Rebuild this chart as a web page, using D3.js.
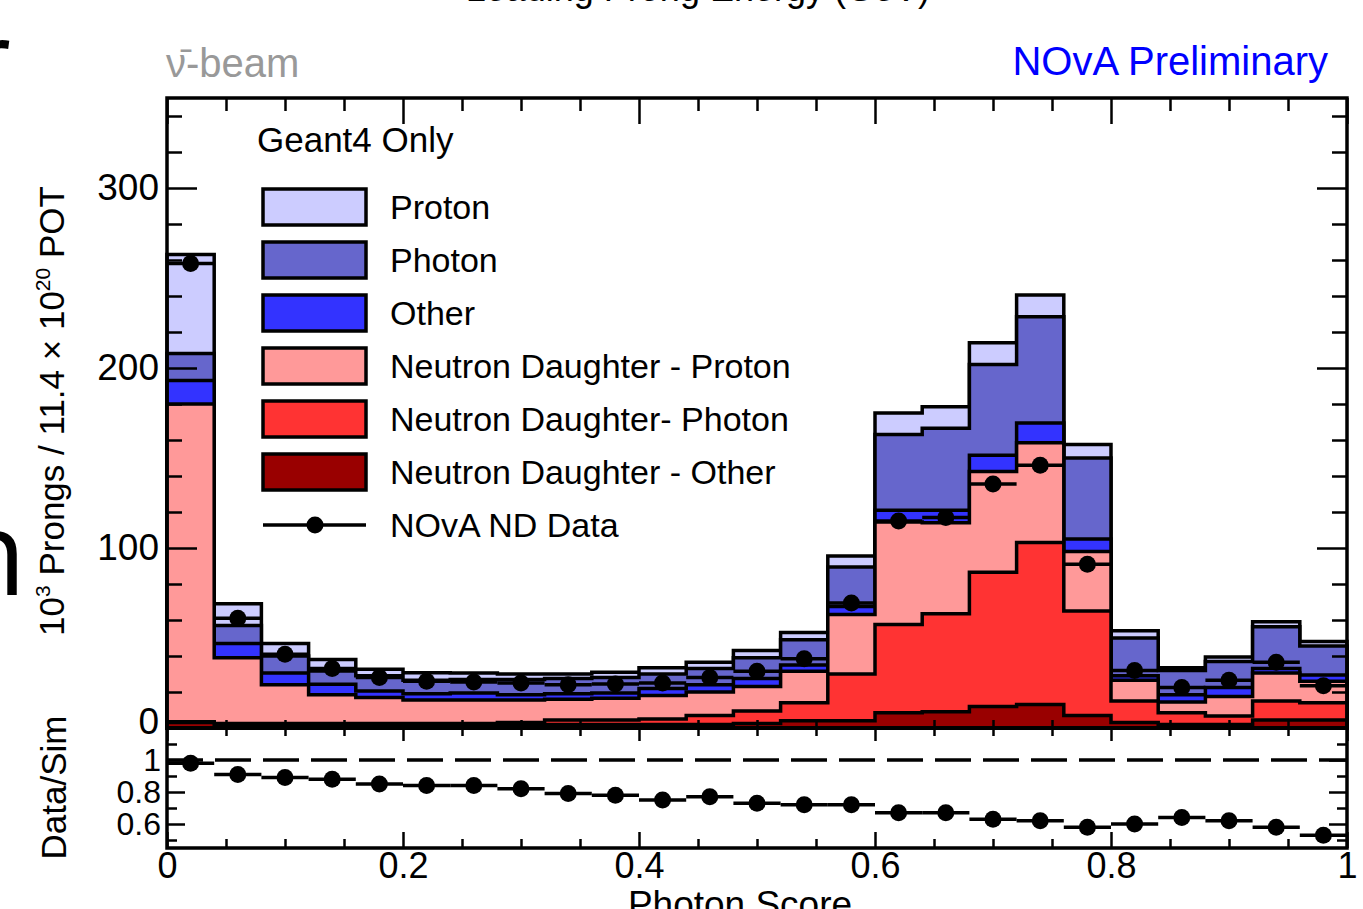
<!DOCTYPE html>
<html>
<head>
<meta charset="utf-8">
<script src="https://cdn.jsdelivr.net/npm/d3@7"></script>
<style>
  body { margin: 0; background: #fff; }
  text { font-family: "Liberation Sans", Arial, Helvetica, sans-serif; }
</style>
</head>
<body>
<div id="chart"></div>
<script>
// bin lower edges of the photon score histogram (width 0.04)
const binLow = [0, 0.04, 0.08, 0.12, 0.16, 0.20, 0.24, 0.28, 0.32, 0.36, 0.40, 0.44, 0.48,
  0.52, 0.56, 0.60, 0.64, 0.68, 0.72, 0.76, 0.80, 0.84, 0.88, 0.92, 0.96];
const binWidth = 0.04;

// stacked components, 10^3 prongs per bin (bottom of stack first)
const ndOther  = [3, 1.5, 1.5, 1.5, 1.5, 1.5, 1.5, 1.5, 2, 2, 2, 2, 2.5, 4, 4, 8.5, 9, 12, 13, 7, 3, 2, 2, 4.5, 4.5];
const ndPhoton = [0.5, 1, 1, 1, 1, 1, 1, 1.5, 2.5, 2.5, 3, 5, 7, 10, 26, 49, 54.5, 74.5, 90, 58, 12, 6.5, 4.7, 10.5, 9.5];
const ndProton = [176.5, 36.5, 21.5, 16, 14.5, 13, 13, 12.5, 11.5, 12, 13, 13, 13.5, 17.5, 33, 57, 50.5, 56, 55.5, 33, 11.5, 6, 10.8, 15.5, 12];
const other    = [13, 8, 6.5, 5.8, 3.6, 3.5, 4, 3, 3, 3, 4, 4, 4.5, 3.5, 4.5, 6.5, 7, 9, 11, 7, 2.5, 4, 5, 2.5, 3.5];
const photon   = [15, 10, 9.5, 7.4, 8.4, 7.5, 7.5, 8.5, 8.5, 8.5, 8, 9, 11.5, 14, 22, 42, 45.5, 50.5, 59, 45, 21, 13.5, 14.5, 23.3, 16];
const proton   = [55, 12, 7, 6.3, 3.6, 4.2, 3.5, 3, 2.5, 3, 3.5, 3.5, 4, 4, 6, 12, 12, 12, 12, 7.5, 4, 1.5, 2.5, 2.7, 2.5];

// NOvA ND data and data/sim ratio
const ndData = [258, 61, 41, 33, 28, 26, 25.5, 25, 24, 24.5, 25, 28, 31.5, 38.5, 69.5, 115, 117, 135.5, 146, 91, 32, 22.5, 26.5, 36.5, 23.5];
const ratio  = [0.98, 0.91, 0.89, 0.88, 0.85, 0.84, 0.84, 0.82, 0.79, 0.78, 0.75, 0.77, 0.73, 0.72, 0.72, 0.67, 0.67, 0.63, 0.62, 0.58, 0.60, 0.64, 0.62, 0.58, 0.53];

const legendNames = ["Proton", "Photon", "Other", "Neutron Daughter - Proton", "Neutron Daughter- Photon", "Neutron Daughter - Other"];
const keys   = ["ndOther", "ndPhoton", "ndProton", "other", "photon", "proton"];
const colors = { proton: "#ccccff", photon: "#6666cc", other: "#3333ff", ndProton: "#ff9999", ndPhoton: "#ff3333", ndOther: "#990000" };

const mainTicks  = [0, 100, 200, 300];
const ratioTicks = [0.6, 0.8, 1];
const xTicks     = [0, 0.2, 0.4, 0.6, 0.8, 1];

const W = 1363, H = 909;
const L = 167, R = 1347, T = 98, M = 728, B = 848;

const svg = d3.select("#chart").append("svg")
  .attr("width", W).attr("height", H)
  .attr("viewBox", `0 0 ${W} ${H}`);

const x = d3.scaleLinear().domain([0, 1]).range([L, R]);
const y = d3.scaleLinear().domain([0, 350]).range([M, T]);
const yr = d3.scaleLinear().domain([0.45, 1.2]).range([B, M]);

// bits of the slide behind the plot
svg.append("text").attr("x", -34).attr("y", 100).attr("font-size", 110)
  .style("font-family", "'Open Sans', sans-serif").text("r");
svg.append("text").attr("x", -46).attr("y", 595).attr("font-size", 118)
  .style("font-family", "'Open Sans', sans-serif").text("n");
svg.append("text").attr("x", 930).attr("y", 1).attr("font-size", 36)
  .attr("text-anchor", "end").text("Leading Prong Energy (GeV)");

// stacked histogram
const table = binLow.map((lo, i) => ({
  lo, ndOther: ndOther[i], ndPhoton: ndPhoton[i], ndProton: ndProton[i],
  other: other[i], photon: photon[i], proton: proton[i]
}));
const series = d3.stack().keys(keys)(table);

const area = d3.area()
  .x(d => x(d[0]))
  .y0(y(0))
  .y1(d => y(d[1]))
  .curve(d3.curveStepAfter);

const gHist = svg.append("g");
series.slice().reverse().forEach(s => {
  const pts = s.map(d => [d.data.lo, d[1]]);
  pts.push([1, s[s.length - 1][1]]);
  gHist.append("path")
    .attr("d", area(pts))
    .attr("fill", colors[s.key])
    .attr("stroke", "#000")
    .attr("stroke-width", 3.5)
    .attr("stroke-linejoin", "miter");
});

// data points
const gData = svg.append("g");
gData.selectAll("line").data(ndData).join("line")
  .attr("x1", (d, i) => x(binLow[i])).attr("x2", (d, i) => x(binLow[i] + binWidth))
  .attr("y1", d => y(d)).attr("y2", d => y(d))
  .attr("stroke", "#000").attr("stroke-width", 3.5);
gData.selectAll("circle").data(ndData).join("circle")
  .attr("cx", (d, i) => x(binLow[i] + binWidth / 2)).attr("cy", d => y(d))
  .attr("r", 8.5).attr("fill", "#000");

// ratio panel
svg.append("line")
  .attr("x1", L).attr("x2", R).attr("y1", yr(1)).attr("y2", yr(1))
  .attr("stroke", "#000").attr("stroke-width", 3.5).attr("stroke-dasharray", "36,12");
const gRatio = svg.append("g");
gRatio.selectAll("line").data(ratio).join("line")
  .attr("x1", (d, i) => x(binLow[i])).attr("x2", (d, i) => x(binLow[i] + binWidth))
  .attr("y1", d => yr(d)).attr("y2", d => yr(d))
  .attr("stroke", "#000").attr("stroke-width", 3.5);
gRatio.selectAll("circle").data(ratio).join("circle")
  .attr("cx", (d, i) => x(binLow[i] + binWidth / 2)).attr("cy", d => yr(d))
  .attr("r", 8.5).attr("fill", "#000");

// axes (ticks point inward, ROOT style)
function styleAxis(g, fontSize) {
  g.select(".domain").remove();
  g.selectAll(".tick line").attr("stroke", "#000").attr("stroke-width", 2.5);
  g.selectAll(".tick text").attr("font-size", fontSize).attr("fill", "#000")
    .style("font-family", "'Liberation Sans', Arial, sans-serif");
}
const xMinor = [0.05, 0.1, 0.15, 0.25, 0.3, 0.35, 0.45, 0.5, 0.55, 0.65, 0.7, 0.75, 0.85, 0.9, 0.95];
const yMinor = [20, 40, 60, 80, 120, 140, 160, 180, 220, 240, 260, 280, 320, 340];
const rMinor = [0.5, 0.7, 0.9, 1.1];
const fmtX = d => (d === 0 ? "0" : d === 1 ? "1" : d.toFixed(1));

// main panel
svg.append("g").attr("transform", `translate(${L},0)`)
  .call(d3.axisLeft(y).tickValues(mainTicks).tickSizeInner(-30).tickSizeOuter(0).tickPadding(8))
  .call(g => styleAxis(g, 37))
  .call(g => g.selectAll(".tick text").filter(d => d === 0).attr("dy", "0.15em"));
svg.append("g").attr("transform", `translate(${L},0)`)
  .call(d3.axisLeft(y).tickValues(yMinor).tickSize(-15).tickFormat(""))
  .call(g => styleAxis(g, 0));
svg.append("g").attr("transform", `translate(${R},0)`)
  .call(d3.axisRight(y).tickValues(mainTicks).tickSize(-30).tickFormat(""))
  .call(g => styleAxis(g, 0));
svg.append("g").attr("transform", `translate(${R},0)`)
  .call(d3.axisRight(y).tickValues(yMinor).tickSize(-15).tickFormat(""))
  .call(g => styleAxis(g, 0));
svg.append("g").attr("transform", `translate(0,${T})`)
  .call(d3.axisTop(x).tickValues(xTicks).tickSize(-26).tickFormat(""))
  .call(g => styleAxis(g, 0));
svg.append("g").attr("transform", `translate(0,${T})`)
  .call(d3.axisTop(x).tickValues(xMinor).tickSize(-13).tickFormat(""))
  .call(g => styleAxis(g, 0));
svg.append("g").attr("transform", `translate(0,${M})`)
  .call(d3.axisBottom(x).tickValues(xMinor).tickSize(-8).tickFormat(""))
  .call(g => styleAxis(g, 0));

// ratio panel axes
svg.append("g").attr("transform", `translate(${L},0)`)
  .call(d3.axisLeft(yr).tickValues(ratioTicks).tickSizeInner(-18).tickSizeOuter(0).tickPadding(6)
    .tickFormat(d => (d === 1 ? "1" : d.toFixed(1))))
  .call(g => styleAxis(g, 32));
svg.append("g").attr("transform", `translate(${L},0)`)
  .call(d3.axisLeft(yr).tickValues(rMinor).tickSize(-10).tickFormat(""))
  .call(g => styleAxis(g, 0));
svg.append("g").attr("transform", `translate(${R},0)`)
  .call(d3.axisRight(yr).tickValues(ratioTicks).tickSize(-18).tickFormat(""))
  .call(g => styleAxis(g, 0));
svg.append("g").attr("transform", `translate(${R},0)`)
  .call(d3.axisRight(yr).tickValues(rMinor).tickSize(-10).tickFormat(""))
  .call(g => styleAxis(g, 0));
svg.append("g").attr("transform", `translate(0,${M})`)
  .call(d3.axisTop(x).tickValues(xTicks).tickSize(-13).tickFormat(""))
  .call(g => styleAxis(g, 0));
svg.append("g").attr("transform", `translate(0,${M})`)
  .call(d3.axisTop(x).tickValues(xMinor).tickSize(-8).tickFormat(""))
  .call(g => styleAxis(g, 0));
svg.append("g").attr("transform", `translate(0,${B})`)
  .call(d3.axisBottom(x).tickValues(xTicks).tickSizeInner(-16).tickSizeOuter(0).tickPadding(4).tickFormat(fmtX))
  .call(g => styleAxis(g, 36));
svg.append("g").attr("transform", `translate(0,${B})`)
  .call(d3.axisBottom(x).tickValues(xMinor).tickSize(-9).tickFormat(""))
  .call(g => styleAxis(g, 0));

// frames
svg.append("rect").attr("x", L).attr("y", T).attr("width", R - L).attr("height", M - T)
  .attr("fill", "none").attr("stroke", "#000").attr("stroke-width", 3.5);
svg.append("rect").attr("x", L).attr("y", M).attr("width", R - L).attr("height", B - M)
  .attr("fill", "none").attr("stroke", "#000").attr("stroke-width", 3.5);

// axis titles
const yTitle = svg.append("text")
  .attr("transform", `translate(64,${(180 + 642) / 2}) rotate(-90)`)
  .attr("text-anchor", "middle").attr("font-size", 35).attr("fill", "#000");
yTitle.append("tspan").text("10");
yTitle.append("tspan").attr("font-size", 21).attr("dy", -14).text("3");
yTitle.append("tspan").attr("dy", 14).text(" Prongs / 11.4 \u00d7 10");
yTitle.append("tspan").attr("font-size", 21).attr("dy", -14).text("20");
yTitle.append("tspan").attr("dy", 14).text(" POT");

svg.append("text")
  .attr("transform", `translate(66,${(715 + 860) / 2}) rotate(-90)`)
  .attr("text-anchor", "middle").attr("font-size", 35).attr("fill", "#000")
  .text("Data/Sim");

svg.append("text").attr("x", 740).attr("y", 917).attr("text-anchor", "middle")
  .attr("font-size", 37).attr("fill", "#000").text("Photon Score");

// labels on top
svg.append("text").attr("x", 166).attr("y", 77).attr("font-size", 40).attr("fill", "#999")
  .text("\u03bd\u0304-beam");
svg.append("text").attr("x", 1328).attr("y", 75).attr("text-anchor", "end")
  .attr("font-size", 40).attr("fill", "#0000ff").text("NOvA Preliminary");

// legend
const leg = svg.append("g");
leg.append("text").attr("x", 257).attr("y", 152).attr("font-size", 35).attr("fill", "#000").text("Geant4 Only");
const legKeys = keys.slice().reverse();
const rowY = i => 207 + i * 53;
legKeys.forEach((k, i) => {
  leg.append("rect").attr("x", 263).attr("y", rowY(i) - 18).attr("width", 103).attr("height", 36)
    .attr("fill", colors[k]).attr("stroke", "#000").attr("stroke-width", 3.5);
  leg.append("text").attr("x", 390).attr("y", rowY(i) + 12).attr("font-size", 34).attr("fill", "#000")
    .text(legendNames[i]);
});
leg.append("line").attr("x1", 263).attr("x2", 366).attr("y1", rowY(6)).attr("y2", rowY(6))
  .attr("stroke", "#000").attr("stroke-width", 3.5);
leg.append("circle").attr("cx", 315).attr("cy", rowY(6)).attr("r", 8.5).attr("fill", "#000");
leg.append("text").attr("x", 390).attr("y", rowY(6) + 12).attr("font-size", 34).attr("fill", "#000")
  .text("NOvA ND Data");
</script>
</body>
</html>
